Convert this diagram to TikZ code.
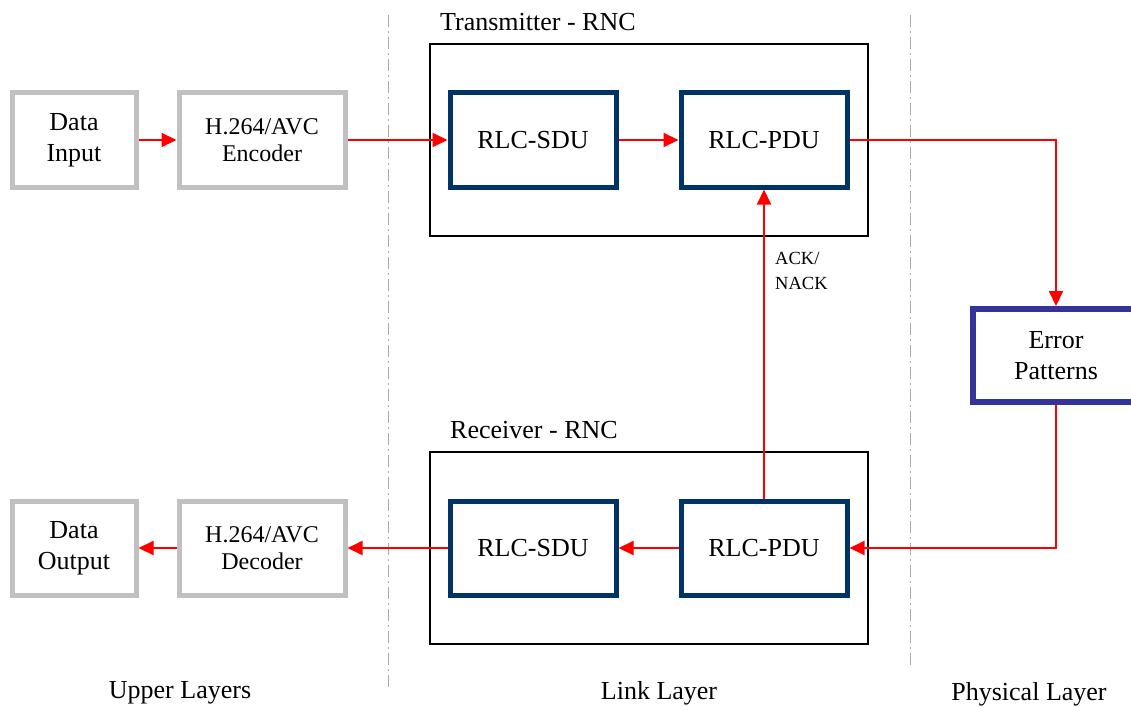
\documentclass[tikz,border=0pt]{standalone}
\usepackage{fontspec}
\setmainfont{Liberation Serif}
\usetikzlibrary{arrows.meta, positioning}
\definecolor{boxgray}{RGB}{192,192,192}
\definecolor{rncblue}{RGB}{0,51,102}
\definecolor{errblue}{RGB}{51,51,153}
\definecolor{linkred}{RGB}{255,0,0}
\definecolor{layergray}{RGB}{170,170,170}

\begin{document}
\begin{tikzpicture}[x=1pt, y=-1pt,
    upperbox/.style={draw=boxgray, line width=5pt, minimum width=124pt, minimum height=94pt, inner sep=0pt, align=center, font=\fontsize{26}{31}\selectfont},
    codecbox/.style={upperbox, minimum width=166pt, font=\fontsize{24}{27}\selectfont},
    rlcbox/.style={draw=rncblue, line width=5pt, minimum width=166pt, minimum height=94pt, inner sep=0pt, font=\fontsize{26}{31}\selectfont},
    errbox/.style={draw=errblue, line width=6pt, minimum width=166pt, minimum height=93pt, inner sep=0pt, align=center, font=\fontsize{26}{31}\selectfont},
    rncbox/.style={draw=black, line width=1.5pt, minimum width=438pt, minimum height=192pt, inner sep=0pt},
    layerline/.style={layergray, line width=1pt, dash pattern=on 12pt off 4pt on 2pt off 4pt},
    flow/.style={linkred, line width=2pt, -{Triangle[length=15pt, width=14pt]}},
    plain/.style={font=\fontsize{26}{31}\selectfont, inner sep=0pt}]
    \useasboundingbox (0,0) rectangle (1131,706);

    % Layer borders
    \draw[layerline] (388,15) -- (388,688);
    \draw[layerline] (910,15) -- (910,665);

    % RNC frames
    \node[rncbox] (tx) at (649,140) {};
    \node[rncbox] (rx) at (649,548) {};
    \node[plain, anchor=west] (txlabel) at (440,22) {Transmitter - RNC};
    \node[plain, anchor=west] (rxlabel) at (450,430) {Receiver - RNC};

    % Upper layers
    \node[upperbox] (input) at (74,140) {Data\\Input};
    \node[codecbox] (enc) at (262,140) {H.264/AVC\\Encoder};
    \node[upperbox] (output) at (74,548) {Data\\Output};
    \node[codecbox] (dec) at (262,548) {H.264/AVC\\Decoder};

    % Link layer
    \node[rlcbox] (sdutx) at (533,140) {RLC-SDU};
    \node[rlcbox] (pdutx) at (764,140) {RLC-PDU};
    \node[rlcbox] (sdurx) at (533,548) {RLC-SDU};
    \node[rlcbox] (pdurx) at (764,548) {RLC-PDU};

    % Physical layer
    \node[errbox] (err) at (1056,355.5) {Error\\Patterns};

    % Transmit path
    \draw[flow] (input) -- (enc);
    \draw[flow] (enc) -- (sdutx);
    \draw[flow] (sdutx) -- (pdutx);
    \draw[flow] (pdutx.east) -| (err.north);

    % Receive path
    \draw[flow] (err.south) |- (pdurx.east);
    \draw[flow] (pdurx) -- (sdurx);
    \draw[flow] (sdurx) -- (dec);
    \draw[flow] (dec) -- (output);

    % Feedback
    \draw[flow] (pdurx.north) -- (pdutx.south);
    \node[anchor=north west, align=left, inner sep=0pt, font=\fontsize{18.5}{25}\selectfont] (ack) at (775,252) {ACK/\\NACK};

    % Layer names
    \node[plain] (upper) at (180,693) {Upper Layers};
    \node[plain] (link) at (659,693) {Link Layer};
    \node[plain] (phys) at (1029,694) {Physical Layer};
\end{tikzpicture}
\end{document}
